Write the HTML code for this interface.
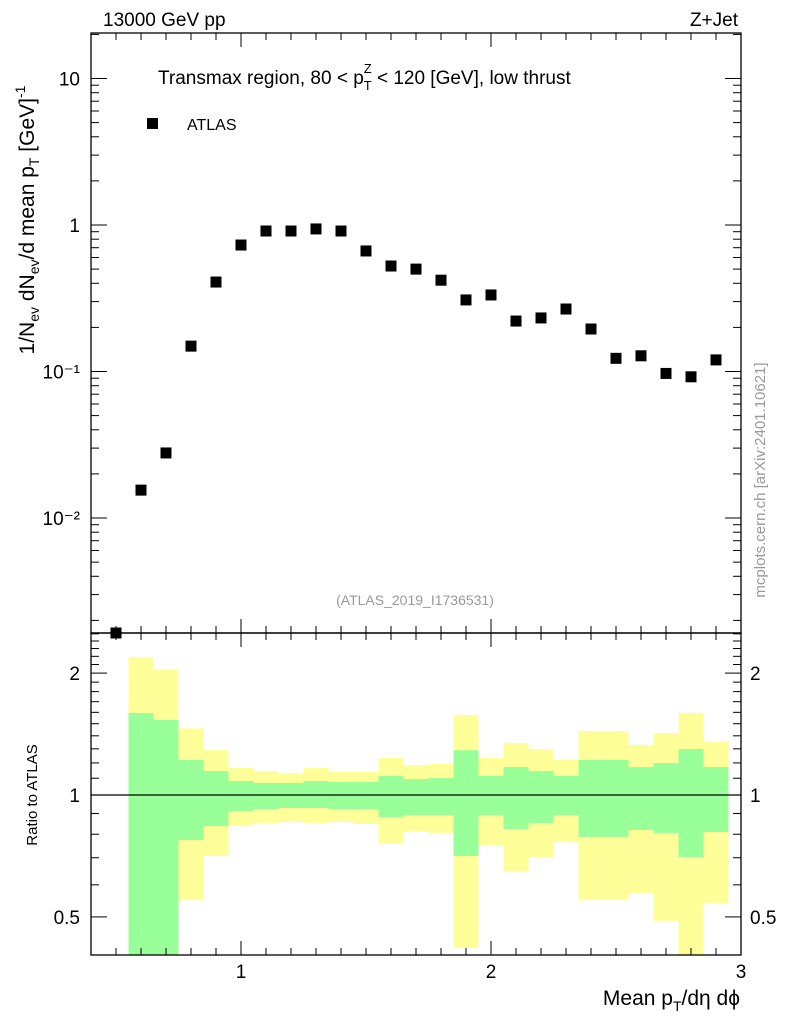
<!DOCTYPE html>
<html><head><meta charset="utf-8"><style>
body{margin:0;background:#fff;}
svg{font-family:"Liberation Sans",sans-serif;}
</style></head><body>
<svg id="c" width="786" height="1024" xmlns="http://www.w3.org/2000/svg">
<text x="103" y="26" font-size="19">13000 GeV pp</text>
<text x="738" y="26" font-size="19" text-anchor="end">Z+Jet</text>
<text x="158" y="84" font-size="19">Transmax region, 80 &lt; p<tspan font-size="13" dy="6">T</tspan><tspan font-size="13" dx="-8" dy="-17">Z</tspan><tspan dy="11"> &lt; 120 [GeV], low thrust</tspan></text>
<rect x="147" y="118" width="11" height="11" fill="#000"/>
<text x="187" y="130" font-size="16">ATLAS</text>
<text x="415" y="605" font-size="14" fill="#999" text-anchor="middle">(ATLAS_2019_I1736531)</text>
<text transform="translate(765,480) rotate(-90)" font-size="15" fill="#999" text-anchor="middle">mcplots.cern.ch [arXiv:2401.10621]</text>
<text transform="translate(34,220) rotate(-90)" font-size="21" text-anchor="middle">1/N<tspan font-size="14" dy="5">ev</tspan><tspan dy="-5"> dN</tspan><tspan font-size="14" dy="5">ev</tspan><tspan dy="-5">/d mean p</tspan><tspan font-size="14" dy="5">T</tspan><tspan dy="-5">  [GeV]</tspan><tspan font-size="14" dy="-9">-1</tspan></text>
<text transform="translate(37,795) rotate(-90)" font-size="15" text-anchor="middle">Ratio to ATLAS</text>
<text x="740" y="1005" font-size="21" text-anchor="end">Mean p<tspan font-size="14" dy="6">T</tspan><tspan dy="-6">/dη dϕ</tspan></text>
<g id="g"></g>
</svg>
<script>
const binCenters=[0.5,0.6,0.7,0.8,0.9,1.0,1.1,1.2,1.3,1.4,1.5,1.6,1.7,1.8,1.9,2.0,2.1,2.2,2.3,2.4,2.5,2.6,2.7,2.8,2.9];
const atlasValues=[0.0016,0.0155,0.0278,0.149,0.408,0.73,0.91,0.91,0.94,0.91,0.665,0.525,0.50,0.42,0.308,0.333,0.221,0.232,0.267,0.195,0.123,0.128,0.097,0.092,0.12];
const bandCenters=[0.6,0.7,0.8,0.9,1.0,1.1,1.2,1.3,1.4,1.5,1.6,1.7,1.8,1.9,2.0,2.1,2.2,2.3,2.4,2.5,2.6,2.7,2.8,2.9];
const yellowHi=[2.19,2.04,1.46,1.29,1.166,1.146,1.133,1.166,1.14,1.14,1.234,1.186,1.193,1.576,1.234,1.344,1.299,1.22,1.439,1.439,1.329,1.422,1.594,1.352];
const greenHi=[1.594,1.532,1.22,1.146,1.083,1.071,1.071,1.083,1.077,1.077,1.114,1.095,1.101,1.29,1.114,1.172,1.146,1.114,1.22,1.22,1.172,1.199,1.299,1.172];
const greenLo=[0.3,0.3,0.774,0.838,0.913,0.923,0.929,0.929,0.923,0.923,0.882,0.892,0.892,0.707,0.892,0.824,0.853,0.892,0.788,0.788,0.82,0.806,0.703,0.81];
const yellowLo=[0.3,0.475,0.55,0.707,0.838,0.852,0.858,0.852,0.858,0.848,0.761,0.815,0.806,0.419,0.752,0.649,0.699,0.765,0.55,0.55,0.573,0.489,0.3,0.541];
const xMajor=[1,2,3];
const yMainMajor=[10,1,0.1,0.01];
const yMainLabels=["10","1","10⁻¹","10⁻²"];
const yRatioMajor=[2,1,0.5];
const yRatioLabels=["2","1","0.5"];

const L=91,R=741,T1=33,B1=633,T2=633,B2=955;
const X=v=>L+(v-0.4)*250;
const Y=v=>225-Math.log10(v)*146.5;
const YR=v=>795-Math.log10(v)*405;
const g=document.getElementById('g');
const NS='http://www.w3.org/2000/svg';
function mk(t,a){const e=document.createElementNS(NS,t);for(const k in a)e.setAttribute(k,a[k]);g.appendChild(e);return e;}
function cl(v,a,b){return Math.max(a,Math.min(b,v));}
bandCenters.forEach((c,i)=>{
 const x0=X(c-0.05),w=25;
 let e=mk('rect',{x:x0,y:cl(YR(yellowHi[i]),T2,B2),width:w,height:cl(YR(yellowLo[i]),T2,B2)-cl(YR(yellowHi[i]),T2,B2),fill:'#ffff99'});
 
 
 e=mk('rect',{x:x0,y:cl(YR(greenHi[i]),T2,B2),width:w,height:cl(YR(greenLo[i]),T2,B2)-cl(YR(greenHi[i]),T2,B2),fill:'#99ff99'});
 
 
});
let ln=mk('line',{x1:L,x2:R,y1:YR(1),y2:YR(1),stroke:'#000','stroke-width':1.2});


binCenters.forEach((c,i)=>{
 const y=Math.min(Y(atlasValues[i]),B1);
 const e=mk('rect',{x:X(c)-5.5,y:y-5.5,width:11,height:11,fill:'#000'});
 
 
});
[[T1,B1],[T2,B2]].forEach((p,j)=>{
 const e=mk('rect',{x:L,y:p[0],width:R-L,height:p[1]-p[0],fill:'none',stroke:'#000','stroke-width':1.3});
 
 
});
for(let k=4;k<=30;k++){const v=k/10,maj=k%10==0,x=X(v),len=maj?14:7;
 [[T1,1],[B1,-1],[T2,1],[B2,-1]].forEach(p=>{const e=mk('line',{x1:x,x2:x,y1:p[0],y2:p[0]+p[1]*len,stroke:'#000'});
 
 });
}
xMajor.forEach(v=>{const e=mk('text',{x:X(v),y:978,'font-size':19,'text-anchor':'middle'});e.textContent=v;
 
 });
for(let d=-3;d<=1;d++)for(let m=1;m<=9;m++){const v=m*Math.pow(10,d),y=Y(v);if(y<T1||y>B1)continue;const len=m==1?16:8;
 [[L,1],[R,-1]].forEach(p=>{const e=mk('line',{x1:p[0],x2:p[0]+p[1]*len,y1:y,y2:y,stroke:'#000'});
 
 });}
yMainMajor.forEach((v,i)=>{const e=mk('text',{x:80,y:Y(v)+7,'font-size':19,'text-anchor':'end'});e.textContent=yMainLabels[i];
 
 });
for(let k=4;k<=25;k++){const v=k/10;const y=YR(v);if(y<T2||y>B2)continue;const maj=(k==5||k==10||k==20);const len=maj?16:8;
 [[L,1],[R,-1]].forEach(p=>{const e=mk('line',{x1:p[0],x2:p[0]+p[1]*len,y1:y,y2:y,stroke:'#000'});
 
 });}
yRatioMajor.forEach((v,i)=>{[[80,'end'],[750,'start']].forEach(p=>{const e=mk('text',{x:p[0],y:YR(v)+7,'font-size':19,'text-anchor':p[1]});e.textContent=yRatioLabels[i];
 
 });});
</script>
</body></html>
